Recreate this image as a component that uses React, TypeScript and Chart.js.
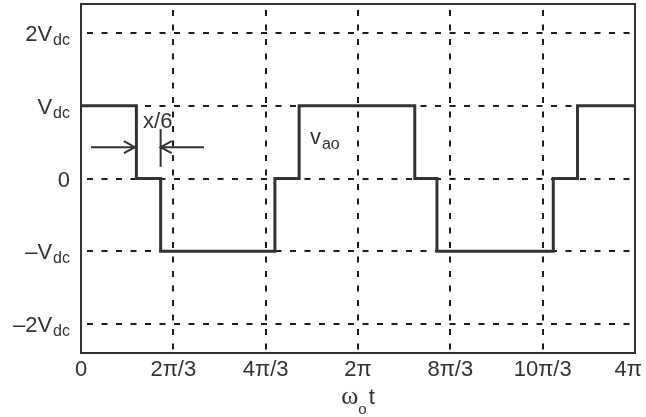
import React, { useEffect, useRef } from "react";
import { Chart, registerables } from "chart.js";

Chart.register(...registerables);

const PI = Math.PI;

// Waveform v_ao: switching instants (units of π) and level (units of Vdc) in each interval
const edgeTimes = [0, 0.4, 0.575, 1.4, 1.575, 2.41, 2.57, 3.41, 3.585, 4];
const levels = [1, 0, -1, 0, 1, 0, -1, 0, 1];

// x ticks (units of π)
const xTickValues = [0, 2 / 3, 4 / 3, 2, 8 / 3, 10 / 3, 4];
const xTickLabels = ["0", "2π/3", "4π/3", "2π", "8π/3", "10π/3", "4π"];

// y ticks (units of Vdc)
const yTickValues = [-2, -1, 0, 1, 2];
const yTickMain = ["–2V", "–V", "0", "V", "2V"];
const yTickSub = ["dc", "dc", "", "dc", "dc"];

// texts
const xTitle = { main: "ω", sub: "o", tail: "t" };
const waveLabel = { main: "v", sub: "ao" };
const gapLabel = "x/6";

// annotation anchors (data units: x in π, y in Vdc)
const arrowLevel = 0.43;
const leftArrowTail = 0.072;
const rightArrowTail = 0.888;
const barTop = 0.68;
const barBottom = 0.16;
const gapLabelPos = { x: 0.448, y: 0.7 };
const waveLabelPos = { x: 1.653, y: 0.48 };

const INK = "#333333";
const GRID = "#1e1e1e";
const SANS = '"Liberation Sans", Arial, Helvetica, sans-serif';
const SERIF = '"Liberation Serif", "Times New Roman", serif';
const MAIN = 22;
const SUB = 16;

function buildPoints() {
  const pts: { x: number; y: number }[] = [];
  for (let i = 0; i < levels.length; i++) {
    pts.push({ x: edgeTimes[i] * PI, y: levels[i] });
    pts.push({ x: edgeTimes[i + 1] * PI, y: levels[i] });
  }
  return pts;
}

function arrow(ctx: CanvasRenderingContext2D, x1: number, y: number, x2: number) {
  const dir = Math.sign(x2 - x1);
  ctx.beginPath();
  ctx.moveTo(x1, y);
  ctx.lineTo(x2, y);
  ctx.stroke();
  ctx.beginPath();
  ctx.moveTo(x2 - dir * 11, y - 6);
  ctx.lineTo(x2, y);
  ctx.lineTo(x2 - dir * 11, y + 6);
  ctx.stroke();
}

const overlay = {
  id: "overlay",
  afterDraw(chart: any) {
    const { ctx, chartArea: a, scales } = chart;
    const xs = scales.x;
    const ys = scales.y;
    ctx.save();
    ctx.setLineDash([]);
    // frame
    ctx.strokeStyle = INK;
    ctx.lineWidth = 2;
    ctx.strokeRect(a.left, a.top, a.right - a.left, a.bottom - a.top);

    ctx.fillStyle = INK;
    ctx.textBaseline = "alphabetic";

    // x tick labels
    ctx.font = `${MAIN}px ${SANS}`;
    ctx.textAlign = "center";
    xTickValues.forEach((v, i) => {
      const lab = xTickLabels[i];
      const w = ctx.measureText(lab).width;
      let px = xs.getPixelForValue(v * PI);
      px = Math.min(px, chart.width - w / 2 - 4);
      ctx.fillText(lab, px, a.bottom + 23);
    });

    // y tick labels with subscripts
    ctx.textAlign = "left";
    yTickValues.forEach((v, i) => {
      const py = ys.getPixelForValue(v);
      ctx.font = `${MAIN}px ${SANS}`;
      const mw = ctx.measureText(yTickMain[i]).width;
      ctx.font = `${SUB}px ${SANS}`;
      const sw = yTickSub[i] ? ctx.measureText(yTickSub[i]).width + 1 : 0;
      const x0 = a.left - 11 - mw - sw;
      ctx.font = `${MAIN}px ${SANS}`;
      ctx.fillText(yTickMain[i], x0, py + 8);
      if (yTickSub[i]) {
        ctx.font = `${SUB}px ${SANS}`;
        ctx.fillText(yTickSub[i], x0 + mw + 1, py + 12);
      }
    });

    // x title
    ctx.font = `26px ${SERIF}`;
    const w1 = ctx.measureText(xTitle.main).width;
    ctx.font = `17px ${SERIF}`;
    const w2 = ctx.measureText(xTitle.sub).width;
    ctx.font = `${MAIN}px ${SANS}`;
    const w3 = ctx.measureText(xTitle.tail).width;
    const tot = w1 + w2 + w3 + 2;
    const cx = (a.left + a.right) / 2;
    let tx = cx - tot / 2;
    const tb = a.bottom + 51;
    ctx.font = `26px ${SERIF}`;
    ctx.fillText(xTitle.main, tx, tb);
    tx += w1;
    ctx.font = `17px ${SERIF}`;
    ctx.fillText(xTitle.sub, tx, tb + 10);
    tx += w2 + 2;
    ctx.font = `${MAIN}px ${SANS}`;
    ctx.fillText(xTitle.tail, tx, tb);

    // annotations
    ctx.strokeStyle = INK;
    ctx.lineWidth = 2;
    const ay = ys.getPixelForValue(arrowLevel);
    const e1 = xs.getPixelForValue(edgeTimes[1] * PI) - 1.5;
    const e2 = xs.getPixelForValue(edgeTimes[2] * PI);
    arrow(ctx, xs.getPixelForValue(leftArrowTail * PI), ay, e1);
    arrow(ctx, xs.getPixelForValue(rightArrowTail * PI), ay, e2);
    ctx.beginPath();
    ctx.moveTo(e2, ys.getPixelForValue(barTop));
    ctx.lineTo(e2, ys.getPixelForValue(barBottom));
    ctx.stroke();

    ctx.font = `${MAIN}px ${SANS}`;
    ctx.fillText(gapLabel, xs.getPixelForValue(gapLabelPos.x * PI), ys.getPixelForValue(gapLabelPos.y));

    const vx = xs.getPixelForValue(waveLabelPos.x * PI);
    const vy = ys.getPixelForValue(waveLabelPos.y);
    ctx.font = `${MAIN}px ${SANS}`;
    ctx.fillText(waveLabel.main, vx, vy);
    const vw = ctx.measureText(waveLabel.main).width;
    ctx.font = `${SUB}px ${SANS}`;
    ctx.fillText(waveLabel.sub, vx + vw + 1, vy + 5);

    ctx.restore();
  },
};

export default function App() {
  const ref = useRef<HTMLCanvasElement | null>(null);
  useEffect(() => {
    if (!ref.current) return;
    const chart = new Chart(ref.current, {
      type: "line",
      data: {
        datasets: [
          {
            data: buildPoints(),
            borderColor: INK,
            borderWidth: 3,
            pointRadius: 0,
            tension: 0,
            fill: false,
            borderJoinStyle: "miter",
          } as any,
        ],
      },
      options: {
        responsive: false,
        animation: false,
        devicePixelRatio: 1,
        layout: { padding: { top: 4, right: 11, left: 0, bottom: 0 } },
        plugins: { legend: { display: false }, tooltip: { enabled: false } },
        scales: {
          x: {
            type: "linear",
            min: 0,
            max: 4 * PI,
            afterBuildTicks: (s: any) => {
              s.ticks = xTickValues.map((v) => ({ value: v * PI }));
            },
            afterFit: (s: any) => {
              s.height = 64;
            },
            ticks: { display: false },
            grid: { color: GRID, lineWidth: 2, drawTicks: false },
            border: { display: false, dash: [6, 8.5], dashOffset: -6 },
          },
          y: {
            type: "linear",
            min: -2.4,
            max: 2.4,
            afterBuildTicks: (s: any) => {
              s.ticks = yTickValues.map((v) => ({ value: v }));
            },
            afterFit: (s: any) => {
              s.width = 81;
            },
            ticks: { display: false },
            grid: { color: GRID, lineWidth: 2, drawTicks: false },
            border: { display: false, dash: [6, 8.5], dashOffset: -6 },
          },
        } as any,
      },
      plugins: [overlay],
    });
    return () => chart.destroy();
  }, []);
  return (
    <div style={{ position: "fixed", left: 0, top: 0, width: 646, height: 417, background: "#fff" }}>
      <canvas ref={ref} width={646} height={417} style={{ display: "block" }} />
    </div>
  );
}
